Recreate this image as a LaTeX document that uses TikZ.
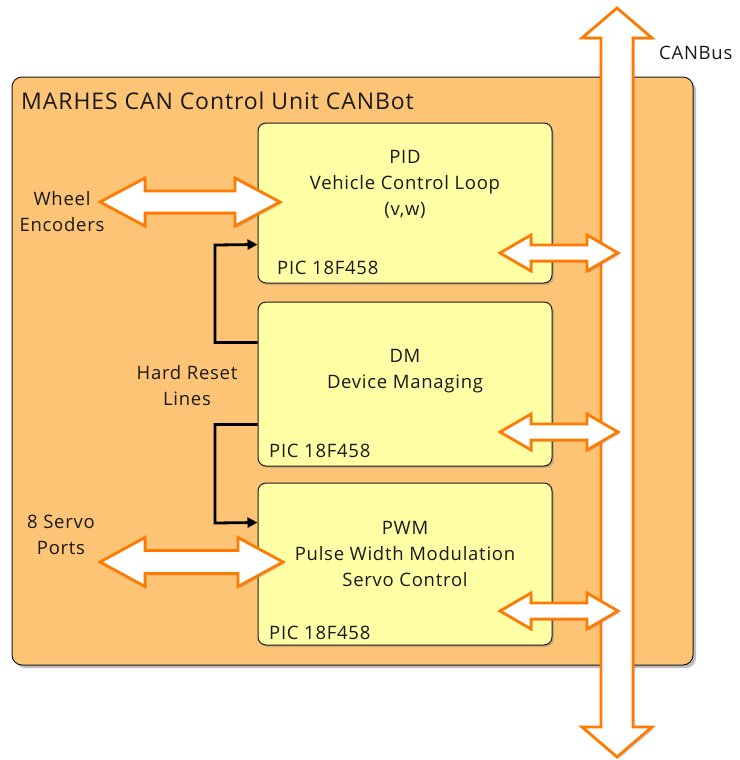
\documentclass[tikz,border=0pt]{standalone}
\usepackage{fontspec}
\setmainfont{Open Sans}[LetterSpace=4]
\usetikzlibrary{shadows,calc,arrows.meta}
\definecolor{unitfill}{RGB}{253,196,118}
\definecolor{picfill}{RGB}{255,255,166}
\definecolor{busorange}{RGB}{255,122,0}
\definecolor{ink}{RGB}{25,25,25}

% horizontal double arrow between two named tips:
% #3 shaft half-width, #4 head half-width, #5 head length
\newcommand\hbiarrow[5]{%
  \draw[bigarrow] let \p1=(#1), \p2=(#2) in
    (\x1,\y1) -- (\x1+#5pt,\y1+#4pt) -- (\x1+#5pt,\y1+#3pt)
    -- (\x2-#5pt,\y2+#3pt) -- (\x2-#5pt,\y2+#4pt) -- (\x2,\y2)
    -- (\x2-#5pt,\y2-#4pt) -- (\x2-#5pt,\y2-#3pt)
    -- (\x1+#5pt,\y1-#3pt) -- (\x1+#5pt,\y1-#4pt) -- cycle;}
% vertical double arrow, #1 upper tip, #2 lower tip
\newcommand\vbiarrow[5]{%
  \draw[bigarrow] let \p1=(#1), \p2=(#2) in
    (\x1,\y1) -- (\x1+#4pt,\y1-#5pt) -- (\x1+#3pt,\y1-#5pt)
    -- (\x2+#3pt,\y2+#5pt) -- (\x2+#4pt,\y2+#5pt) -- (\x2,\y2)
    -- (\x2-#4pt,\y2+#5pt) -- (\x2-#3pt,\y2+#5pt)
    -- (\x1-#3pt,\y1-#5pt) -- (\x1-#4pt,\y1-#5pt) -- cycle;}

\begin{document}
\begin{tikzpicture}[x=1pt,y=-1pt,
  unit/.style={draw=ink, line width=1pt, fill=unitfill, rounded corners=10pt,
    minimum width=681pt, minimum height=588pt, inner sep=0pt,
    drop shadow={shadow xshift=3pt, shadow yshift=-3pt, opacity=0.5}},
  picbox/.style={draw=ink, line width=1pt, fill=picfill, rounded corners=8pt,
    minimum width=294pt, inner sep=0pt,
    drop shadow={shadow xshift=2pt, shadow yshift=-2pt, opacity=0.35}},
  bigarrow/.style={draw=busorange, line width=2.8pt, fill=white, line join=miter,
    drop shadow={shadow xshift=2pt, shadow yshift=-2pt, opacity=0.3}},
  reset/.style={draw=black, line width=2.8pt, -{Triangle[length=10pt,width=10pt]}},
  txt/.style={text=ink, font=\fontsize{18.5}{26}\selectfont, align=center, inner sep=0pt},
  pic/.style={text=ink, font=\fontsize{18.5}{20}\selectfont, anchor=west, inner sep=0pt}]
\useasboundingbox (0,0) rectangle (739,760);

% control unit housing
\node[unit] (unit) at (352.5,371) {};
\node[text=ink, font=\fontsize{23}{26}\selectfont, anchor=west, inner sep=0pt] (title) at (21,101) {MARHES CAN Control Unit CANBot};

% the three PIC controllers
\node[picbox, minimum height=160pt] (pid) at (405,203) {};
\node[picbox, minimum height=164pt] (dm)  at (405,384) {};
\node[picbox, minimum height=162pt] (pwm) at (405,564) {};

\node[txt] (pidt) at (405,184) {PID\\Vehicle Control Loop\\(v,w)};
\node[pic] (pidp) at (277,268) {PIC 18F458};
\node[txt] (dmt) at (405,371) {DM\\Device Managing};
\node[pic] (dmp) at (269,451) {PIC 18F458};
\node[txt] (pwmt) at (405,554) {PWM\\Pulse Width Modulation\\Servo Control};
\node[pic] (pwmp) at (269,633) {PIC 18F458};

% hard reset lines
\node[txt] (reset) at (187,386) {Hard Reset\\Lines};
\coordinate (rsA) at ($(dm.north west)+(0,41)$);
\coordinate (rsB) at ($(pid.north west)+(0,122)$);
\coordinate (rsC) at ($(dm.north west)+(0,123)$);
\coordinate (rsD) at ($(pwm.north west)+(0,40)$);
\draw[reset] (rsA) -| (215,245) -- (rsB);
\draw[reset] (rsC) -| (215,523) -- (rsD);

% CAN bus
\coordinate (busTop) at (617,8);
\coordinate (busBot) at (617,757);
\vbiarrow{busTop}{busBot}{16}{35}{30}
\node[text=ink, font=\fontsize{18.5}{20}\selectfont, anchor=west, inner sep=0pt] (bus) at (659,53) {CANBus};

% controller to bus links
\coordinate (pidL) at (500,253);  \coordinate (pidR) at (618,253);
\coordinate (dmL)  at (500,432);  \coordinate (dmR)  at (618,432);
\coordinate (pwmL) at (500,611);  \coordinate (pwmR) at (618,611);
\hbiarrow{pidL}{pidR}{8}{18}{31}
\hbiarrow{dmL}{dmR}{8}{18}{31}
\hbiarrow{pwmL}{pwmR}{8}{18}{31}

% external links
\node[txt] (wheel) at (62,212) {Wheel\\Encoders};
\coordinate (whL) at (100,202); \coordinate (whR) at (280,202);
\hbiarrow{whL}{whR}{11}{24}{45}
\node[txt] (servo) at (61,535) {8 Servo\\Ports};
\coordinate (svL) at (100,562); \coordinate (svR) at (283,562);
\hbiarrow{svL}{svR}{11.5}{24.5}{45}
\end{tikzpicture}
\end{document}
